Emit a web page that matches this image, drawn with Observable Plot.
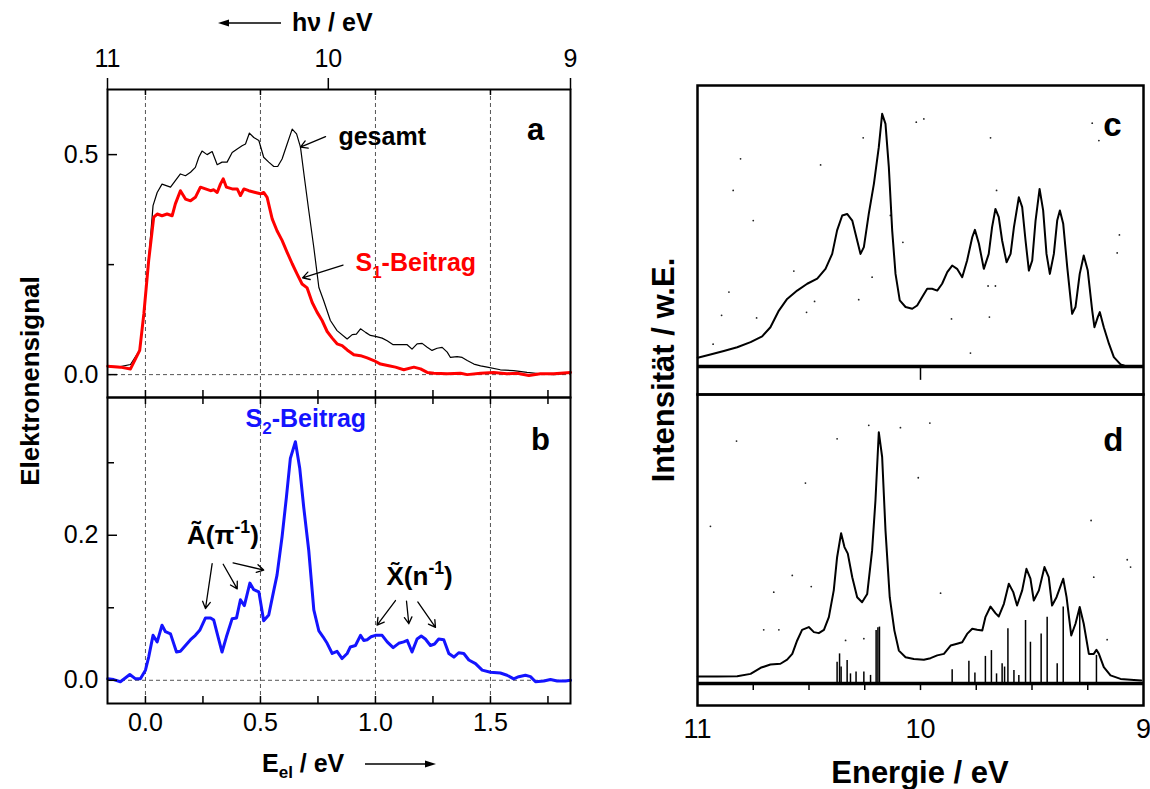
<!DOCTYPE html>
<html><head><meta charset="utf-8">
<script src="https://cdn.jsdelivr.net/npm/d3@7"></script>
<script src="https://cdn.jsdelivr.net/npm/@observablehq/plot@0.6"></script>
<style>
body{margin:0;background:#fff;}
#wrap{position:relative;width:1150px;height:789px;overflow:hidden;font-family:"Liberation Sans",Arial,sans-serif;background:#fff;}
#wrap svg{position:absolute;overflow:visible;}
.lbl{position:absolute;font-weight:bold;white-space:nowrap;color:#000;line-height:1;}
.rot{transform:translate(-50%,-50%) rotate(-90deg);}
</style></head><body><div id="wrap"></div>
<script>
// ---------- data: panel a (E_el / eV, signal) ----------
const gesamtE = [-0.164,-0.109,-0.065,-0.025,-0.007,0.014,0.033,0.051,0.072,0.109,0.130,0.152,0.174,0.196,0.217,0.232,0.246,0.268,0.290,0.312,0.333,0.355,0.377,0.399,0.420,0.435,0.452,0.471,0.493,0.514,0.536,0.558,0.575,0.594,0.616,0.638,0.657,0.674,0.691,0.710,0.732,0.754,0.775,0.804,0.833,0.877,0.899,0.917,0.935,0.957,0.978,1.000,1.029,1.051,1.077,1.109,1.138,1.159,1.181,1.203,1.225,1.246,1.268,1.290,1.312,1.326,1.355,1.377,1.399,1.428,1.457,1.486,1.543,1.601,1.659,1.717,1.775,1.833,1.848];
const gesamtV = [0.019,0.018,0.023,0.056,0.138,0.262,0.384,0.414,0.433,0.426,0.441,0.456,0.452,0.460,0.471,0.494,0.508,0.500,0.507,0.477,0.483,0.483,0.505,0.513,0.520,0.524,0.549,0.539,0.532,0.494,0.483,0.473,0.473,0.490,0.524,0.558,0.547,0.517,0.448,0.373,0.289,0.198,0.168,0.123,0.100,0.081,0.091,0.092,0.104,0.096,0.089,0.087,0.083,0.077,0.068,0.068,0.068,0.058,0.070,0.071,0.062,0.055,0.060,0.062,0.051,0.039,0.041,0.039,0.032,0.024,0.020,0.017,0.011,0.009,0.005,0.002,0.000,0.003,0.005];
const s1E = [-0.164,-0.109,-0.065,-0.025,-0.007,0.014,0.036,0.051,0.072,0.094,0.116,0.130,0.152,0.174,0.196,0.217,0.239,0.261,0.283,0.297,0.312,0.326,0.338,0.352,0.377,0.399,0.413,0.428,0.449,0.478,0.500,0.514,0.529,0.551,0.572,0.594,0.616,0.638,0.659,0.681,0.703,0.725,0.746,0.768,0.790,0.812,0.833,0.855,0.877,0.906,0.935,0.964,0.993,1.022,1.058,1.087,1.123,1.167,1.196,1.225,1.254,1.312,1.370,1.399,1.457,1.514,1.572,1.616,1.667,1.717,1.775,1.848];
const s1V = [0.019,0.017,0.013,0.055,0.138,0.259,0.358,0.365,0.361,0.365,0.361,0.388,0.418,0.399,0.395,0.403,0.426,0.422,0.418,0.420,0.414,0.433,0.445,0.426,0.422,0.422,0.407,0.422,0.418,0.414,0.411,0.414,0.403,0.354,0.327,0.305,0.278,0.252,0.229,0.206,0.197,0.164,0.142,0.123,0.098,0.083,0.070,0.066,0.056,0.045,0.043,0.038,0.032,0.024,0.020,0.017,0.011,0.017,0.013,0.005,0.003,0.002,0.003,0.000,0.003,0.005,0.002,0.003,-0.002,0.002,0.002,0.005];
// ---------- data: panel b ----------
const s2E = [-0.164,-0.138,-0.109,-0.068,-0.043,-0.022,0.000,0.014,0.033,0.051,0.072,0.087,0.109,0.135,0.152,0.174,0.196,0.217,0.236,0.261,0.283,0.297,0.314,0.333,0.352,0.377,0.396,0.413,0.430,0.454,0.471,0.493,0.514,0.536,0.558,0.572,0.594,0.613,0.630,0.652,0.671,0.688,0.710,0.732,0.754,0.772,0.790,0.812,0.833,0.855,0.877,0.891,0.913,0.935,0.949,0.964,0.981,1.000,1.029,1.051,1.077,1.101,1.123,1.138,1.159,1.181,1.199,1.217,1.239,1.257,1.275,1.297,1.319,1.341,1.362,1.384,1.406,1.435,1.464,1.500,1.543,1.572,1.601,1.623,1.652,1.674,1.696,1.732,1.761,1.790,1.826,1.848];
const s2V = [0.002,0.001,-0.002,0.008,0.002,0.002,0.014,0.032,0.062,0.053,0.076,0.067,0.064,0.039,0.040,0.048,0.056,0.062,0.069,0.086,0.086,0.083,0.062,0.039,0.060,0.085,0.086,0.111,0.103,0.134,0.125,0.122,0.082,0.090,0.124,0.145,0.198,0.253,0.306,0.329,0.292,0.239,0.179,0.097,0.068,0.060,0.051,0.037,0.040,0.030,0.037,0.046,0.048,0.062,0.055,0.056,0.060,0.062,0.062,0.053,0.045,0.051,0.053,0.055,0.039,0.057,0.061,0.057,0.048,0.050,0.057,0.056,0.037,0.032,0.038,0.037,0.028,0.023,0.014,0.011,0.010,0.007,0.002,0.005,0.007,0.005,-0.002,-0.001,0.001,-0.001,-0.001,0.000];
// ---------- data: panel c (Energie / eV, Intensität w.E.) ----------
const cE = [10.999,10.942,10.882,10.822,10.762,10.710,10.673,10.635,10.598,10.553,10.508,10.463,10.426,10.396,10.374,10.351,10.329,10.306,10.284,10.269,10.254,10.232,10.209,10.187,10.172,10.157,10.142,10.127,10.112,10.093,10.067,10.037,10.015,9.993,9.970,9.948,9.925,9.903,9.880,9.858,9.836,9.813,9.791,9.768,9.756,9.738,9.716,9.694,9.679,9.664,9.649,9.634,9.614,9.596,9.581,9.559,9.544,9.529,9.514,9.499,9.484,9.466,9.450,9.435,9.420,9.402,9.387,9.375,9.360,9.342,9.320,9.305,9.286,9.268,9.250,9.230,9.220,9.205,9.196,9.178,9.155,9.133,9.103,9.088];
const cV = [0.034,0.047,0.061,0.076,0.096,0.119,0.155,0.221,0.267,0.300,0.327,0.347,0.386,0.445,0.538,0.597,0.603,0.577,0.498,0.445,0.472,0.603,0.722,0.867,0.999,0.959,0.788,0.538,0.366,0.261,0.235,0.228,0.241,0.274,0.307,0.307,0.300,0.327,0.373,0.399,0.386,0.353,0.419,0.511,0.540,0.485,0.386,0.445,0.551,0.623,0.590,0.498,0.412,0.445,0.551,0.669,0.630,0.498,0.379,0.419,0.577,0.702,0.617,0.445,0.366,0.445,0.577,0.617,0.564,0.393,0.208,0.235,0.366,0.439,0.379,0.221,0.155,0.195,0.215,0.155,0.090,0.037,0.008,0.004];
// scan specks in panel c
const cDotE = [10.807,10.840,10.750,10.859,10.892,10.930,10.735,10.568,10.511,10.475,10.448,10.257,10.277,10.217,10.079,10.019,9.985,10.135,9.861,9.776,9.686,9.659,9.697,9.664,9.691,9.230,9.200,9.108,9.118];
const cDotV = [0.821,0.696,0.577,0.294,0.202,0.088,0.192,0.377,0.214,0.257,0.797,0.904,0.264,0.353,0.491,0.966,0.979,0.597,0.188,0.053,0.904,0.696,0.318,0.318,0.195,0.962,0.893,0.520,0.449];
// ---------- data: panel d ----------
const dE = [10.999,10.912,10.822,10.762,10.717,10.673,10.628,10.598,10.575,10.553,10.531,10.501,10.478,10.456,10.433,10.411,10.389,10.374,10.356,10.341,10.326,10.306,10.284,10.262,10.239,10.217,10.202,10.187,10.172,10.157,10.138,10.117,10.097,10.067,10.030,9.985,9.955,9.925,9.895,9.865,9.836,9.813,9.791,9.768,9.746,9.723,9.709,9.686,9.664,9.649,9.626,9.604,9.584,9.567,9.544,9.525,9.507,9.492,9.469,9.444,9.425,9.410,9.390,9.360,9.345,9.324,9.305,9.286,9.268,9.245,9.223,9.211,9.200,9.178,9.148,9.103,9.043,9.010];
const dV = [0.028,0.028,0.029,0.038,0.062,0.075,0.078,0.094,0.117,0.170,0.212,0.223,0.203,0.199,0.212,0.262,0.368,0.499,0.594,0.539,0.513,0.420,0.341,0.321,0.354,0.526,0.723,0.993,0.895,0.605,0.341,0.209,0.130,0.104,0.097,0.094,0.100,0.111,0.117,0.150,0.157,0.163,0.196,0.216,0.212,0.209,0.262,0.304,0.278,0.265,0.315,0.394,0.361,0.308,0.368,0.453,0.414,0.328,0.368,0.460,0.420,0.308,0.341,0.414,0.341,0.190,0.236,0.302,0.236,0.117,0.117,0.133,0.117,0.065,0.032,0.018,0.014,0.012];
const stickE = [10.374,10.363,10.356,10.329,10.314,10.289,10.254,10.224,10.199,10.191,10.184,9.858,9.783,9.756,9.709,9.682,9.659,9.634,9.623,9.608,9.581,9.559,9.529,9.507,9.459,9.432,9.387,9.360,9.286,9.211];
const stickH = [0.084,0.117,0.065,0.091,0.038,0.045,0.045,0.032,0.209,0.220,0.223,0.054,0.088,0.041,0.107,0.130,0.038,0.078,0.065,0.216,0.051,0.032,0.249,0.163,0.196,0.262,0.078,0.302,0.289,0.111];
// scan specks in panel d
const dDotE = [10.825,10.942,10.516,10.374,10.232,10.090,9.958,10.010,10.575,10.658,10.490,10.703,10.635,10.336,10.254,9.910,9.235,9.073,9.058,9.223,9.163];
const dDotV = [0.958,0.621,0.792,0.967,1.020,1.011,1.029,0.813,0.427,0.361,0.383,0.212,0.212,0.170,0.177,0.357,0.644,0.489,0.460,0.420,0.173];
// ---------- ticks ----------
const eelLabels = [0, 0.5, 1.0, 1.5];
const eelQuarter = [0, 0.25, 0.5, 0.75, 1.0, 1.25, 1.5, 1.75];
const hvLabels = ["11", "10", "9"];
const hvPos = [-0.165, 0.795, 1.848];
const aMajor = [0, 0.5], aMinor = [0.25];
const bMajor = [0, 0.2], bMinor = [0.1, 0.3];
const energyLabels = [11, 10, 9];
const energyMinor = [10.75, 10.5, 10.25, 10, 9.75, 9.5, 9.25];
// ---------- annotations ----------
const annA = [{x:0.839, y:0.540, t:"gesamt", c:"#000"}, {x:0.913, y:0.2545, t:"S_{1}-Beitrag", c:"#ff0000"}];
const arrA = [{x1:0.783,y1:0.541,x2:0.674,y2:0.517},{x1:0.859,y1:0.249,x2:0.683,y2:0.220}];
const annB = [{x:0.181, y:0.200, t:"\u00C3(\u03C0^{-1})"}, {x:1.048, y:0.143, t:"X\u0303(n^{-1})"}];
const annBs2 = [{x:0.435, y:0.361, t:"S_{2}-Beitrag"}];
const arrB = [
  {x1:0.290,y1:0.161,x2:0.261,y2:0.099},{x1:0.338,y1:0.160,x2:0.399,y2:0.126},{x1:0.381,y1:0.162,x2:0.514,y2:0.152},
  {x1:1.087,y1:0.110,x2:1.007,y2:0.076},{x1:1.135,y1:0.109,x2:1.145,y2:0.078},{x1:1.184,y1:0.108,x2:1.261,y2:0.073}];
const letters = {a:[1.696,0.555], b:[1.717,0.331], c:[9.139,0.953], d:[9.135,0.960]};

const zipXY = (xs, ys) => xs.map((x,i)=>({x, y: ys[i]}));
const gesamt = zipXY(gesamtE, gesamtV), s1 = zipXY(s1E, s1V), s2 = zipXY(s2E, s2V);
const cData = zipXY(cE, cV), dData = zipXY(dE, dV), sticks = zipXY(stickE, stickH);
const cDots = zipXY(cDotE, cDotV), dDots = zipXY(dDotE, dDotV);
const hvMap = new Map(hvPos.map((p,i)=>[p, hvLabels[i]]));

const FONT = '"Liberation Sans", Arial, sans-serif';
const baseStyle = {fontFamily: FONT, background: "transparent", overflow: "visible", color: "#000"};
const f1 = d3.format(".1f");
const dash = {strokeDasharray: "4,3", stroke: "#555", strokeWidth: 1};

// Left column geometry
const LW = 600, LML = 107, LMR = 30, LFW = LW - LML - LMR;
const xDomL = [-0.165, 1.848];

const plotA = Plot.plot({
  width: LW, height: 400, marginLeft: LML, marginRight: LMR, marginTop: 89, marginBottom: 3,
  x: {domain: xDomL, axis: null}, y: {domain: [-0.052, 0.648], axis: null},
  style: baseStyle,
  marks: [
    Plot.ruleX(eelLabels, {x: d=>d, ...dash}),
    Plot.ruleY([0], {y: d=>d, ...dash}),
    Plot.line(gesamt, {x:"x", y:"y", stroke:"#000", strokeWidth:1.2}),
    Plot.line(s1, {x:"x", y:"y", stroke:"#ff0000", strokeWidth:3}),
    Plot.axisX(hvPos, {anchor:"top", tickSize:12, tickPadding:11, strokeWidth:1.5, tickFormat: d=>hvMap.get(d), fontSize:25, label:null}),
    Plot.axisY(aMajor, {anchor:"left", tickSize:0, tickPadding:9, tickFormat:f1, fontSize:25, label:null}),
    Plot.tickY(aMajor, {y:d=>d, insetRight: LFW-10, strokeWidth:1.5}),
    Plot.tickY(aMinor, {y:d=>d, insetRight: LFW-7, strokeWidth:1.5}),
    Plot.tickX(eelLabels, {x:d=>d, insetBottom: 308-6, strokeWidth:1.5}),
    Plot.tickX(eelQuarter, {x:d=>d, insetTop: 308-7, strokeWidth:1.5}),
    Plot.frame({strokeWidth:2}),
    Plot.arrow(arrA, {x1:"x1",y1:"y1",x2:"x2",y2:"y2", headLength:9, strokeWidth:1.3}),
    Plot.text(annA.slice(0,1), {x:"x", y:"y", text:"t", textAnchor:"start", fontSize:25, fontWeight:"bold", fill:"#000"}),
    Plot.text(annA.slice(1), {x:"x", y:"y", text:"t", textAnchor:"start", fontSize:25, fontWeight:"bold", fill:"#ff0000"}),
    Plot.text([letters.a], {x:d=>d[0], y:d=>d[1], text:()=>"a", fontSize:31, fontWeight:"bold"})
  ]
});

const plotB = Plot.plot({
  width: LW, height: 399, marginLeft: LML, marginRight: LMR, marginTop: 7, marginBottom: 86,
  x: {domain: xDomL, axis: null}, y: {domain: [-0.032, 0.39], axis: null},
  style: baseStyle,
  marks: [
    Plot.ruleX(eelLabels, {x: d=>d, ...dash}),
    Plot.ruleY([0], {y: d=>d, ...dash}),
    Plot.line(s2, {x:"x", y:"y", stroke:"#1414ff", strokeWidth:3}),
    Plot.axisX(eelLabels, {anchor:"bottom", tickSize:0, tickPadding:10, tickFormat:f1, fontSize:25, label:null}),
    Plot.axisY(bMajor, {anchor:"left", tickSize:0, tickPadding:9, tickFormat:f1, fontSize:25, label:null}),
    Plot.tickY(bMajor, {y:d=>d, insetRight: LFW-10, strokeWidth:1.5}),
    Plot.tickY(bMinor, {y:d=>d, insetRight: LFW-7, strokeWidth:1.5}),
    Plot.tickX(eelQuarter, {x:d=>d, insetBottom: 306-7, strokeWidth:1.5}),
    Plot.tickX(eelQuarter, {x:d=>d, insetTop: 306-7, strokeWidth:1.5}),
    Plot.frame({strokeWidth:2}),
    Plot.arrow(arrB, {x1:"x1",y1:"y1",x2:"x2",y2:"y2", headLength:9, strokeWidth:1.3}),
    Plot.text(annB, {x:"x", y:"y", text:"t", textAnchor:"start", fontSize:26, fontWeight:"bold", fill:"#000"}),
    Plot.text(annBs2, {x:"x", y:"y", text:"t", textAnchor:"start", fontSize:25, fontWeight:"bold", fill:"#1414ff"}),
    Plot.text([letters.b], {x:d=>d[0], y:d=>d[1], text:()=>"b", fontSize:31, fontWeight:"bold"})
  ]
});

// Right column geometry
const RW = 550, RML = 97, RMR = 7;
const xDomR = [11, 9];

const plotC = Plot.plot({
  width: RW, height: 400, marginLeft: RML, marginRight: RMR, marginTop: 85, marginBottom: 6,
  x: {domain: xDomR, axis: null}, y: {domain: [-0.111, 1.111], axis: null},
  style: baseStyle,
  marks: [
    Plot.dot(cDots, {x:"x", y:"y", r:0.9, fill:"#222", stroke:null}),
    Plot.ruleY([0], {y:d=>d, strokeWidth:3.5}),
    Plot.ruleX([10], {x:d=>d, y1:0, y2:-0.055, strokeWidth:1.5}),
    Plot.line(cData, {x:"x", y:"y", stroke:"#000", strokeWidth:2}),
    Plot.frame({strokeWidth:2.5}),
    Plot.text([letters.c], {x:d=>d[0], y:d=>d[1], text:()=>"c", fontSize:33, fontWeight:"bold"})
  ]
});

const plotD = Plot.plot({
  width: RW, height: 401, marginLeft: RML, marginRight: RMR, marginTop: 6, marginBottom: 84,
  x: {domain: xDomR, axis: null}, y: {domain: [-0.087, 1.142], axis: null},
  style: baseStyle,
  marks: [
    Plot.dot(dDots, {x:"x", y:"y", r:0.9, fill:"#222", stroke:null}),
    Plot.ruleX(sticks, {x:"x", y1:0, y2:"y", strokeWidth:1.5}),
    Plot.ruleY([0], {y:d=>d, strokeWidth:3.5}),
    Plot.ruleX(energyMinor, {x:d=>d, y1:0, y2:-0.028, strokeWidth:1.5}),
    Plot.line(dData, {x:"x", y:"y", stroke:"#000", strokeWidth:2}),
    Plot.axisX(energyLabels, {anchor:"bottom", tickSize:0, tickPadding:13, tickFormat:d=>String(d), fontSize:27, label:null}),
    Plot.frame({strokeWidth:2.5}),
    Plot.text([letters.d], {x:d=>d[0], y:d=>d[1], text:()=>"d", fontSize:33, fontWeight:"bold"})
  ]
});

const wrap = document.getElementById("wrap");
function place(svg, left, top){ svg.style.left = left + "px"; svg.style.top = top + "px"; wrap.appendChild(svg); }
place(plotA, 0, 0); place(plotB, 0, 390); place(plotC, 600, 0); place(plotD, 600, 388);

// sub/superscripts in text marks
function richify(svg){
  svg.querySelectorAll("text").forEach(t=>{
    const s = t.textContent;
    if(!/[_^]\{/.test(s)) return;
    const fs = parseFloat(getComputedStyle(t).fontSize) || 25;
    while(t.firstChild) t.removeChild(t.firstChild);
    const re = /([_^])\{([^}]*)\}/g;
    let last = 0, m, shift = 0;
    const add = (txt, kind) => {
      const ts = document.createElementNS("http://www.w3.org/2000/svg","tspan");
      ts.textContent = txt;
      const target = kind==="_" ? fs*0.3 : kind==="^" ? -fs*0.42 : 0;
      const dy = target - shift; shift = target;
      if (dy) ts.setAttribute("dy", dy);
      if (kind) ts.setAttribute("font-size", fs*0.68);
      t.appendChild(ts);
    };
    while((m = re.exec(s))){ if(m.index>last) add(s.slice(last,m.index), null); add(m[2], m[1]); last = re.lastIndex; }
    if(last < s.length) add(s.slice(last), null);
  });
}
[plotA, plotB].forEach(richify);

// axis titles (HTML text)
function label(html, css, cls){ const d = document.createElement("div"); d.className = "lbl " + (cls||""); d.innerHTML = html; Object.assign(d.style, css); wrap.appendChild(d); }
const arrowSvg = (w, dir) => `<svg width="${w}" height="12" style="position:static;overflow:visible" viewBox="0 0 ${w} 12">` +
  (dir < 0 ? `<line x1="8" y1="6" x2="${w}" y2="6" stroke="#000" stroke-width="1.6"/><polygon points="0,6 11,2.5 11,9.5" fill="#000"/>`
           : `<line x1="0" y1="6" x2="${w-8}" y2="6" stroke="#000" stroke-width="1.6"/><polygon points="${w},6 ${w-11},2.5 ${w-11},9.5" fill="#000"/>`) + `</svg>`;
label(arrowSvg(63, -1), {left:"218px", top:"16px"});
label("h\u03BD / eV", {left:"292px", top:"10px", fontSize:"25px"});
label("E<sub style='font-size:17px;vertical-align:-6px'>el</sub> / eV", {left:"262px", top:"751px", fontSize:"25px"});
label(arrowSvg(71, 1), {left:"365px", top:"757px"});
label("Energie / eV", {left:"920px", top:"772px", fontSize:"31px", transform:"translate(-50%,-50%)"});
label("Elektronensignal", {left:"30px", top:"381px", fontSize:"26px"}, "rot");
label("Intensit\u00E4t / w.E.", {left:"663px", top:"370px", fontSize:"31px"}, "rot");
</script></body></html>
